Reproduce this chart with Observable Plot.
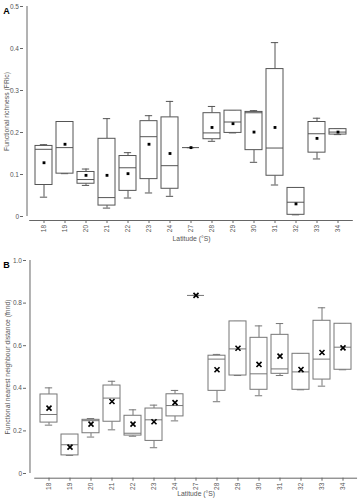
<!DOCTYPE html>
<html><head><meta charset="utf-8">
<script src="https://cdn.jsdelivr.net/npm/d3@7"></script>
<script src="https://cdn.jsdelivr.net/npm/@observablehq/plot@0.6"></script>
<style>body{margin:0;background:#fff} #c svg{display:block}</style>
</head><body><div id="c"></div>
<script>
const latitudes = ["18","19","20","21","22","23","24","27","28","29","30","31","32","33","34"];

// Panel A: Functional richness (FRic)
const fricMin  = [0.046,0.102,0.074,0.020,0.044,0.056,0.048,0.164,0.179,0.199,0.129,0.075,0.004,0.137,0.195];
const fricQ1   = [0.075,0.102,0.078,0.026,0.061,0.089,0.066,0.164,0.184,0.199,0.158,0.097,0.004,0.152,0.195];
const fricMed  = [0.160,0.164,0.088,0.045,0.116,0.190,0.121,0.164,0.199,0.225,0.247,0.163,0.034,0.197,0.201];
const fricQ3   = [0.168,0.225,0.106,0.185,0.144,0.227,0.236,0.164,0.246,0.252,0.249,0.351,0.068,0.225,0.208];
const fricMax  = [0.171,0.225,0.113,0.233,0.152,0.240,0.274,0.164,0.262,0.252,0.252,0.414,0.068,0.234,0.208];
const fricMean = [0.128,0.172,0.098,0.098,0.102,0.172,0.150,0.164,0.212,0.221,0.201,0.212,0.030,0.186,0.201];

// Panel B: Functional nearest neighbour distance (fnnd)
const fnndMin  = [0.227,0.085,0.171,0.205,0.175,0.121,0.247,0.836,0.337,0.460,0.365,0.460,0.393,0.410,0.487];
const fnndQ1   = [0.239,0.085,0.189,0.243,0.178,0.153,0.268,0.836,0.388,0.460,0.393,0.468,0.393,0.441,0.487];
const fnndMed  = [0.277,0.135,0.248,0.354,0.189,0.252,0.319,0.836,0.537,0.585,0.468,0.491,0.477,0.537,0.593];
const fnndQ3   = [0.371,0.183,0.252,0.413,0.271,0.305,0.372,0.836,0.553,0.714,0.637,0.651,0.562,0.717,0.703];
const fnndMax  = [0.402,0.183,0.258,0.433,0.299,0.321,0.390,0.836,0.559,0.714,0.693,0.704,0.562,0.778,0.703];
const fnndMean = [0.307,0.124,0.232,0.338,0.232,0.243,0.333,0.836,0.487,0.588,0.512,0.551,0.488,0.568,0.590];

const fricTicks = [0, 0.1, 0.2, 0.3, 0.4, 0.5];
const fnndTicks = [0, 0.2, 0.4, 0.6, 0.8, 1.0];

const fmt = d => d === 0 ? "0" : d3.format(".1f")(d);

function panel(o) {
  const data = latitudes.map((lat, i) => ({lat, min: o.min[i], q1: o.q1[i], med: o.med[i], q3: o.q3[i], max: o.max[i], mean: o.mean[i]}));
  const H = 250;
  const innerW = 358 - o.marginLeft - o.marginRight;
  const step = innerW / latitudes.length;
  const bw = step * 0.82;
  const capInset = (bw - 8) / 2;
  const axisColor = "#666";
  const yAxisX = o.marginLeft + o.axisDx;            // pixel x of the detached y-axis line
  const firstCenter = o.marginLeft + step / 2;        // band centre of the first category
  return Plot.plot({
    width: 358, height: H,
    marginTop: o.marginTop, marginBottom: o.marginBottom,
    marginLeft: o.marginLeft, marginRight: o.marginRight,
    style: {fontFamily: "'Liberation Sans', Arial, sans-serif", fontSize: "6.5px", color: "#555", background: "white", overflow: "visible"},
    x: {type: "band", domain: latitudes, paddingInner: 0.18, paddingOuter: 0.09},
    y: {domain: [0, o.ymax]},
    marks: [
      // detached y axis line
      Plot.ruleX([latitudes[0]], {x: d => d, y1: 0, y2: o.ymax, dx: yAxisX - firstCenter, stroke: axisColor}),
      // detached x axis line
      Plot.ruleY([0], {dy: o.axisDy, stroke: axisColor}),
      Plot.axisY({ticks: o.ticks, tickSize: 3, tickPadding: 1.5, dx: o.axisDx, tickFormat: fmt, label: null, stroke: axisColor}),
      Plot.axisX({tickSize: 3, tickPadding: 1.5, tickRotate: -90, dy: o.axisDy, label: null, stroke: axisColor}),
      Plot.ruleX(data, {x: "lat", y1: "q3", y2: "max", stroke: o.boxStroke, strokeWidth: 1}),
      Plot.ruleX(data, {x: "lat", y1: "min", y2: "q1", stroke: o.boxStroke, strokeWidth: 1}),
      Plot.tickY(data, {x: "lat", y: "max", stroke: o.boxStroke, insetLeft: capInset, insetRight: capInset}),
      Plot.tickY(data, {x: "lat", y: "min", stroke: o.boxStroke, insetLeft: capInset, insetRight: capInset}),
      Plot.barY(data, {x: "lat", y1: "q1", y2: "q3", fill: "white", stroke: o.boxStroke, strokeWidth: 1}),
      Plot.tickY(data, {x: "lat", y: "med", stroke: o.boxStroke, strokeWidth: 1}),
      o.meanSymbol === "square"
        ? Plot.dot(data, {x: "lat", y: "mean", symbol: "square", r: 1.6, fill: "black", stroke: "none"})
        : Plot.dot(data, {x: "lat", y: "mean", symbol: "times", r: 2.4, stroke: "black", strokeWidth: 1.6, fill: "none"}),
      Plot.text([o.letter], {frameAnchor: "top-left", dx: 6 - o.marginLeft, dy: o.letterY - o.marginTop, fontWeight: "bold", fontSize: 9, fill: "black", textAnchor: "middle"}),
      Plot.text([o.title], {frameAnchor: "left", rotate: -90, dx: o.titleX - o.marginLeft, fontSize: 6.8, fill: "#555", textAnchor: "middle"}),
      Plot.text(["Latitude (°S)"], {frameAnchor: "bottom", dy: o.xTitleY - (H - o.marginBottom), fontSize: 6.8, fill: "#555"})
    ]
  });
}

const c = document.getElementById("c");
c.append(panel({
  letter: "A", title: "Functional richness (FRic)",
  min: fricMin, q1: fricQ1, med: fricMed, q3: fricQ3, max: fricMax, mean: fricMean,
  ymax: 0.5, ticks: fricTicks,
  marginTop: 6, marginBottom: 34, marginLeft: 29.2, marginRight: 5.2,
  axisDx: -6.2, axisDy: 4, boxStroke: "#555", meanSymbol: "square",
  letterY: 7, titleX: 6, xTitleY: 240
}));
c.append(panel({
  letter: "B", title: "Functional nearest neighbour distance (fnnd)",
  min: fnndMin, q1: fnndQ1, med: fnndMed, q3: fnndQ3, max: fnndMax, mean: fnndMean,
  ymax: 1.0, ticks: fnndTicks,
  marginTop: 10, marginBottom: 27, marginLeft: 34.24, marginRight: 0.94,
  axisDx: -8.24, axisDy: 4.7, boxStroke: "#777", meanSymbol: "times",
  letterY: 11, titleX: 7, xTitleY: 245.5
}));
</script>
</body></html>
